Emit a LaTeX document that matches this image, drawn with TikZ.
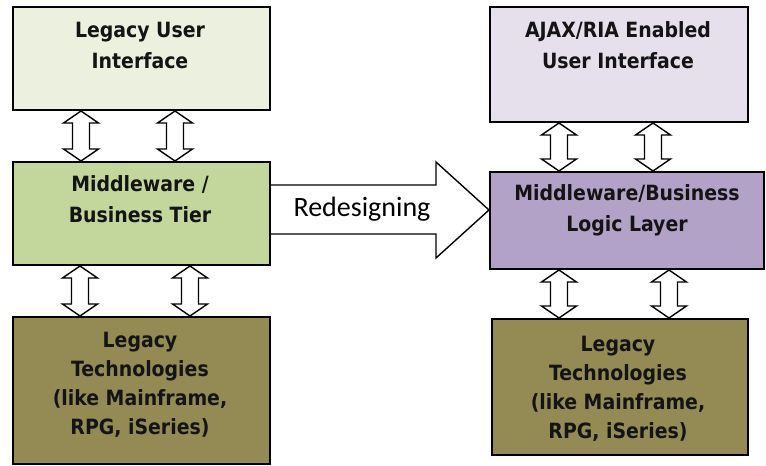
\documentclass[tikz,border=0pt]{standalone}
\usepackage{fontspec}
\setmainfont{Carlito}
\newfontfamily\boxfont{DejaVu Sans Condensed Bold}
\usetikzlibrary{calc}
\definecolor{luiC}{HTML}{EBF1DE}
\definecolor{mbtC}{HTML}{C3D69B}
\definecolor{ltC}{HTML}{948A54}
\definecolor{ajaxC}{HTML}{E5E0EC}
\definecolor{mblC}{HTML}{B2A2C7}
\definecolor{txtC}{HTML}{141414}
\tikzset{
  box/.style={draw=black, line width=2pt, inner sep=0pt, anchor=north west},
  boxtext/.style={align=center, text=txtC, inner sep=0pt,
    font=\boxfont\fontsize{21}{31}\selectfont},
  lttext/.style={boxtext, font=\boxfont\fontsize{21}{29}\selectfont},
  dblar/.style={draw=black, line width=1.4pt, fill=white, line join=miter},
  bigarrow/.style={draw=black, line width=1.4pt, fill=white, line join=miter},
}
\newcommand{\dblarr}[3]{%
  \draw[dblar] let \p1=(#2.south), \p2=(#3.north), \p0=(#1,0) in
    (\x0,\y1) -- (\x0+17.5pt,\y1-12pt) -- (\x0+8.5pt,\y1-12pt) --
    (\x0+8.5pt,\y2+12pt) -- (\x0+17.5pt,\y2+12pt) -- (\x0,\y2) --
    (\x0-17.5pt,\y2+12pt) -- (\x0-8.5pt,\y2+12pt) -- (\x0-8.5pt,\y1-12pt) --
    (\x0-17.5pt,\y1-12pt) -- cycle;
}
\begin{document}
\begin{tikzpicture}[x=1pt, y=-1pt]
\useasboundingbox (0,0) rectangle (766,466);
% boxes
\node[box, fill=luiC, minimum width=257pt, minimum height=103pt] (lui) at (12,6) {};
\node[box, fill=mbtC, minimum width=257pt, minimum height=103pt] (mbt) at (12,161) {};
\node[box, fill=ltC, minimum width=257pt, minimum height=147pt] (ltl) at (12,316) {};
\node[box, fill=ajaxC, minimum width=258pt, minimum height=115pt] (ajax) at (489,6) {};
\node[box, fill=mblC, minimum width=274pt, minimum height=97pt] (mbl) at (489,171) {};
\node[box, fill=ltC, minimum width=256pt, minimum height=136pt] (ltr) at (491,318) {};
% texts
\node[boxtext] (luit) at (140,45) {Legacy User\\Interface};
\node[boxtext] (mbtt) at (140,199) {Middleware /\\Business Tier};
\node[lttext] (ltlt) at (140,385) {Legacy\\Technologies\\(like Mainframe,\\RPG, iSeries)};
\node[boxtext] (ajaxt) at (618,45) {AJAX/RIA Enabled\\User Interface};
\node[boxtext] (mblt) at (627,210) {Middleware/Business\\Logic Layer};
\node[lttext] (ltrt) at (618,389) {Legacy\\Technologies\\(like Mainframe,\\RPG, iSeries)};
% double arrows
\dblarr{81}{lui}{mbt}
\dblarr{175}{lui}{mbt}
\dblarr{80}{mbt}{ltl}
\dblarr{190}{mbt}{ltl}
\dblarr{559}{ajax}{mbl}
\dblarr{653}{ajax}{mbl}
\dblarr{559}{mbl}{ltr}
\dblarr{669}{mbl}{ltr}
% redesigning arrow
\draw[bigarrow] let \p1=(mbt.east), \p2=(mbl.west), \p3=(436,185), \p4=(436,234),
  \p5=(436,162), \p6=(436,258), \p7=(0,210) in
  (\x1,\y3) -- (\p3) -- (\p5) -- (\x2,\y7) -- (\p6) -- (\p4) -- (\x1,\y4);
\node[font=\fontsize{28}{32}\selectfont, inner sep=0pt] (redes) at (362,209) {Redesigning};
\end{tikzpicture}
\end{document}
